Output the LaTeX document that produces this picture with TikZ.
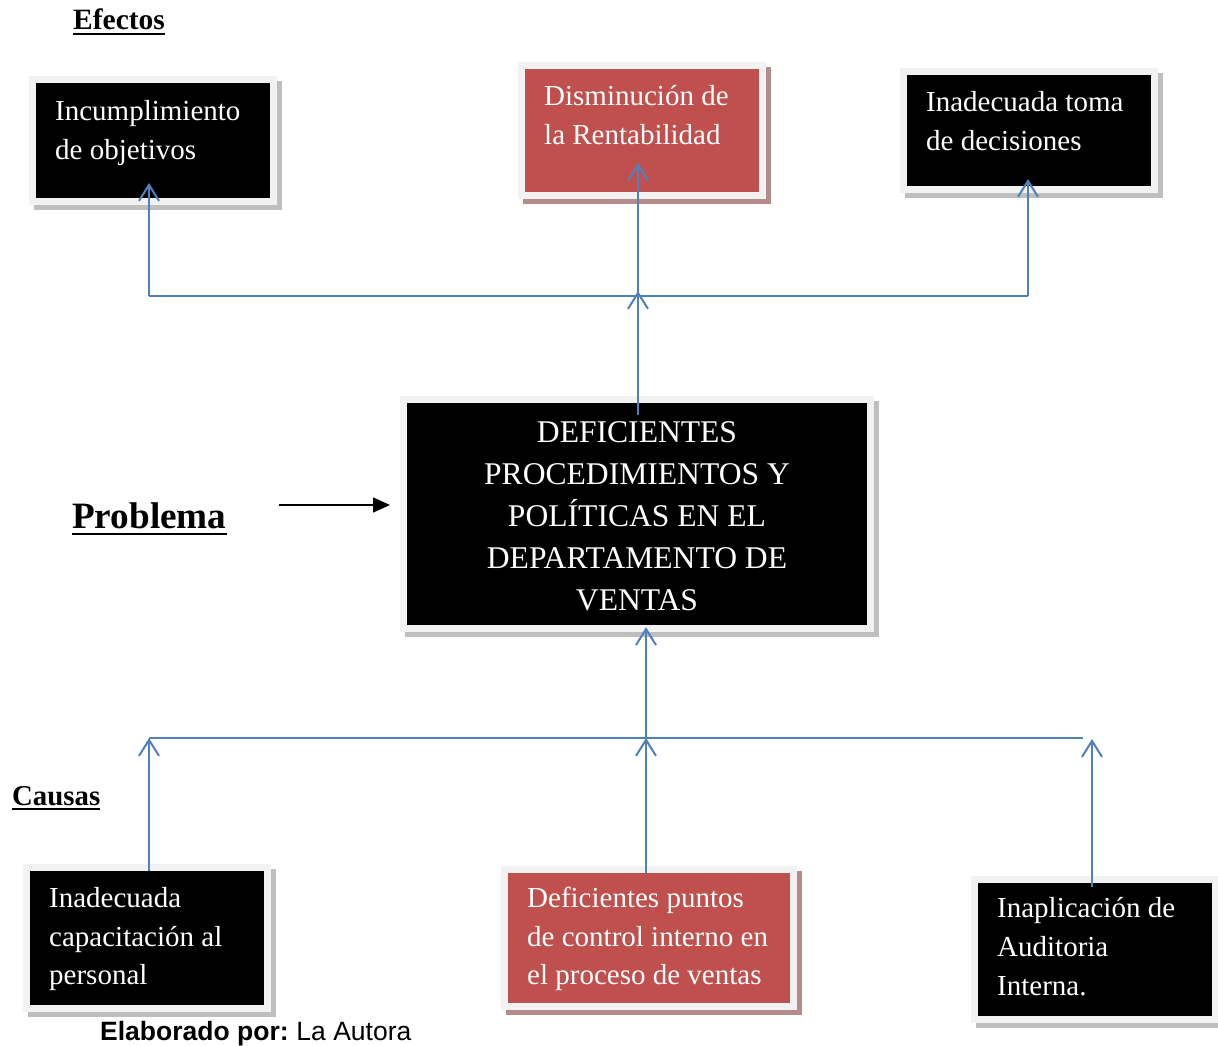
\documentclass[tikz,border=0pt]{standalone}
\usepackage{fontspec}
\setmainfont{Liberation Serif}
\newfontfamily\labelsans{Liberation Sans}
\usetikzlibrary{arrows.meta,fit}

\definecolor{linkblue}{HTML}{4F81BD}
\definecolor{boxred}{HTML}{C0504D}
\definecolor{framegrey}{HTML}{F2F2F2}
\definecolor{shadegrey}{HTML}{BFBFBF}
\definecolor{shadered}{HTML}{B48C8C}

\tikzset{
  conn/.style={draw=linkblue, line width=2pt},
  upto/.style={conn, -{Straight Barb[length=16pt,width=20pt]}},
  boxtext/.style={text=white, inner sep=0pt, anchor=north west, align=left,
                  font=\fontsize{29}{39}\selectfont},
  heading/.style={inner sep=0pt, anchor=base west},
  ul/.style={line width=2.2pt},
}

% framed panel: shadow, light frame, filled body (named node)
% #1 name, #2 x1, #3 y1, #4 x2, #5 y2, #6 fill, #7 shadow colour
\newcommand{\panel}[7]{%
  \fill[#7] (#2-2,#3-2) rectangle (#4+12,#5+12);
  \fill[framegrey] (#2-7,#3-7) rectangle (#4+7,#5+7);
  \node[fit={(#2,#3) (#4,#5)}, inner sep=0pt, fill=#6] (#1) {};
}

\begin{document}
\begin{tikzpicture}[x=1pt,y=-1pt]
\useasboundingbox[fill=white] (0,0) rectangle (1218,1046);

% ---- effects ----
\panel{e1}{36}{83}{270}{198}{black}{shadegrey}
\panel{e2}{525}{69}{759}{192}{boxred}{shadered}
\panel{e3}{907}{75}{1151}{186}{black}{shadegrey}
\node[boxtext] (e1t) at (55,92.7) {\strut Incumplimiento\\de objetivos};
\node[boxtext] (e2t) at (544,77.7) {\strut Disminución de\\la Rentabilidad};
\node[boxtext] (e3t) at (926,83.7) {\strut Inadecuada toma\\de decisiones};

% ---- central problem ----
\panel{p}{407}{403}{867}{625}{black}{shadegrey}
\node[text=white, inner sep=0pt, anchor=north, align=center,
      font=\fontsize{31.6}{42}\selectfont] (pt) at (637,413.1)
  {\strut DEFICIENTES\\PROCEDIMIENTOS Y\\POLÍTICAS EN EL\\DEPARTAMENTO DE\\VENTAS};

% ---- causes ----
\panel{c1}{30}{871}{264}{1005}{black}{shadegrey}
\panel{c2}{508}{873}{790}{1003}{boxred}{shadered}
\panel{c3}{978}{883}{1212}{1016}{black}{shadegrey}
\node[boxtext, font=\fontsize{29}{38.5}\selectfont] (c1t) at (49,880.7)
  {\strut Inadecuada\\capacitación al\\personal};
\node[boxtext, font=\fontsize{29}{38.5}\selectfont] (c2t) at (527,880.7)
  {\strut Deficientes puntos\\de control interno en\\el proceso de ventas};
\node[boxtext, font=\fontsize{29}{39}\selectfont] (c3t) at (997,889.7)
  {\strut Inaplicación de\\Auditoria\\Interna.};

% ---- headings ----
\node[heading, font=\bfseries\fontsize{29.5}{34}\selectfont] (hef) at (73,30) {Efectos};
\draw[ul] ([yshift=-4pt]hef.base west) -- ([yshift=-4pt]hef.base east);
\node[heading, font=\bfseries\fontsize{37.2}{42}\selectfont] (hpr) at (72,528) {Problema};
\draw[ul, line width=2.6pt] ([yshift=-6pt]hpr.base west) -- ([yshift=-6pt]hpr.base east);
\node[heading, font=\bfseries\fontsize{28.8}{34}\selectfont] (hca) at (12,805) {Causas};
\draw[ul] ([yshift=-4pt]hca.base west) -- ([yshift=-4pt]hca.base east);

\node[heading, font=\labelsans\fontsize{26.5}{30}\selectfont] (src) at (100,1040)
  {\textbf{Elaborado por:}\hspace{-2pt} La Autora};

% ---- problem pointer ----
\coordinate (pa) at (279,505);
\coordinate (pb) at (390,505);
\draw[line width=1.5pt, -{Triangle[length=17pt,width=15pt]}] (pa) -- (pb);

% ---- upper connectors ----
\coordinate (tl) at (149,296);
\coordinate (tm) at (638,296);
\coordinate (tr) at (1028,296);
\coordinate (tmtip) at (638,291);
\coordinate (a1) at (149,183);
\coordinate (a2) at (638,163);
\coordinate (a3) at (1028,179);
\coordinate (pup) at (638,415);
\draw[conn] (tl) -- (tr);
\draw[upto] (tl) -- (a1);
\draw[upto] (tm) -- (a2);
\draw[upto] (tr) -- (a3);
\draw[upto] (pup) -- (tmtip);

% ---- lower connectors ----
\coordinate (bl) at (149,738);
\coordinate (bm) at (646,738);
\coordinate (br) at (1083,738);
\coordinate (rt) at (1092,739);
\draw[conn] (bl) -- (br);
\draw[upto] (c1.north -| bl) -- (bl);
\draw[upto] (c2.north -| bm) -- (bm);
\draw[upto] (bm) -- ([yshift=-2pt]p.south -| bm);
\draw[upto] ([yshift=-4pt]c3.north -| rt) -- (rt);
\end{tikzpicture}
\end{document}
